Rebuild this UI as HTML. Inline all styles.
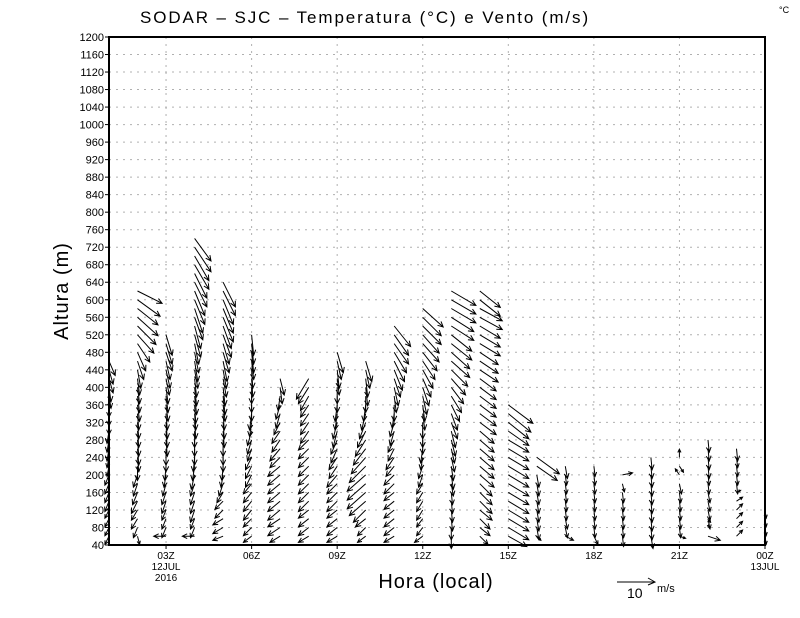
<!DOCTYPE html>
<html><head><meta charset="utf-8">
<style>
html,body{margin:0;padding:0;background:#fff;}
svg{display:block;font-family:"Liberation Sans",sans-serif;}
</style></head>
<body>
<svg id="chart" width="800" height="618" viewBox="0 0 800 618" xmlns="http://www.w3.org/2000/svg">
<rect x="0" y="0" width="800" height="618" fill="#fff"/>
<text x="365" y="23" font-size="17" text-anchor="middle" fill="#000" letter-spacing="1.9">SODAR – SJC – Temperatura (°C) e Vento (m/s)</text>
<text x="779" y="13" font-size="9" fill="#000">°C</text>
<g id="grid"></g>
<g id="yaxis"></g>
<g id="xaxis"></g>
<g id="vectors"></g>
<rect x="109" y="37" width="656" height="508" fill="none" stroke="#000" stroke-width="2"/>
<text transform="translate(68,291) rotate(-90)" font-size="20" text-anchor="middle" fill="#000" letter-spacing="1">Altura (m)</text>
<text x="436" y="588" font-size="20" text-anchor="middle" fill="#000" letter-spacing="1">Hora (local)</text>
<g>
<line x1="617" y1="582" x2="655" y2="582" stroke="#000" stroke-width="1"/>
<polyline points="648,578 655,582 648,585" fill="none" stroke="#000"/>
<text x="627" y="598" font-size="14" fill="#000">10</text>
<text x="657" y="592" font-size="11" fill="#000">m/s</text>
</g>
</svg>
<script>
const yTicks=[40,80,120,160,200,240,280,320,360,400,440,480,520,560,600,640,680,720,760,800,840,880,920,960,1000,1040,1080,1120,1160,1200];
const xTickHours=[3,6,9,12,15,18,21,24];
const xTickLabels=["03Z","06Z","09Z","12Z","15Z","18Z","21Z","00Z"];
const xTickSub1=["12JUL","","","","","","","13JUL"];
const xTickSub2=["2016","","","","","","",""];
const colHours=[1,2,3,4,5,6,7,8,9,10,11,12,13,14,15,16,17,18,19,20,21,22,23,24];
const baseLevel=60, levelStep=20;
const u0=[-1,-1,-1,-1,-1,-1,-1,-1,-0.5,-0.5,-0.5,-0.5,-0.5,0,0,0,0.5,0.5,1,1,1.5];
const v0=[-2,-2,-2,-2,-2.5,-2.5,-2.5,-2.5,-2.5,-2.5,-3,-3,-3,-3,-3,-3,-3,-3.5,-3.5,-3.5,-3.5];
const u1=[0.5,-1,-1.5,-1.5,-1.5,-1.2,-1,-1,0,0.3,0.3,0.3,0.3,0.3,0.3,0.5,0.5,0.5,0.5,0.8,1.5,2,3,4,4.5,5,5,5.5,6];
const v1=[-2,-2.5,-2.5,-2.5,-3,-3,-3,-3,-3.5,-3.5,-4,-4,-4,-4,-4,-4,-4,-4,-4,-4.5,-4.5,-4.5,-4.5,-4.5,-4.5,-4.5,-4,-4,-3];
const u2=[-3,-1,-1,-1,-1,-1,-0.8,-0.5,-0.3,0,0,0.3,0.3,0.3,0.3,0.5,0.5,0.5,0.8,1,1,1.5,1.5,1.5];
const v2=[0,-2.5,-2.5,-2.5,-3,-3,-3,-3,-3.5,-3.5,-4,-4,-4,-4,-4,-4,-4,-4,-4,-4.5,-4.5,-4.5,-5,-5];
const u3=[-3,-1,-1,-1,-1,-1,-1,-0.8,-0.5,-0.3,0,0,0,0.3,0.3,0.3,0.5,0.5,0.5,0.8,0.8,1,1,1.5,1.5,2,2,2.5,2.5,3,3,3.5,3.5,4,4];
const v3=[0,-2.5,-2.5,-3,-3,-3,-3,-3.5,-3.5,-3.5,-4,-4,-4,-4,-4,-4.5,-4.5,-4.5,-4.5,-4.5,-5,-5,-5,-5.5,-5.5,-5.5,-6,-6,-6,-6,-6,-6,-6,-6,-5.5];
const u4=[-2.5,-2.5,-2.5,-2,-2,-1.5,-1,-0.5,-0.3,0,0,0,0.3,0.3,0.3,0.5,0.5,0.5,0.8,0.8,1,1.5,1.5,2,2,2.5,2.5,2.5,3,3];
const v4=[-1,-1.5,-1.5,-2,-2,-2.5,-3,-3,-3.5,-3.5,-4,-4,-4,-4,-4,-4,-4.5,-4.5,-4.5,-4.5,-5,-5,-5,-5.5,-5.5,-6,-6,-6,-6,-6];
const u5=[-2,-2,-2,-2,-2,-2,-2,-1.5,-1.5,-1.5,-1,-1,-1,-0.5,-0.5,0,0,0,0.3,0.3,0.5,0.5,0.5,0.5];
const v5=[-1.5,-2,-2,-2.5,-2.5,-2.5,-2.5,-3,-3,-3,-3,-3.5,-3.5,-3.5,-4,-4,-4,-4,-4.5,-4.5,-4.5,-5,-5,-5];
const u6=[-2.5,-3,-3,-3,-3,-3,-3,-3,-3,-2.5,-2.5,-2,-2,-1.5,-1,-1,-0.5,0.5,1];
const v6=[-1.5,-2,-2,-2.5,-2.5,-2.5,-2.5,-2.5,-2.5,-2.5,-3,-3,-3,-3,-3.5,-3.5,-3.5,-4,-4];
const u7=[-2.5,-2.5,-2.5,-2.5,-2.5,-2.5,-2.5,-2.5,-2.5,-2.5,-2.5,-2.5,-2,-2,-2,-2,-2,-2.5,-3];
const v7=[-1.5,-2,-2,-2,-2.5,-2.5,-2.5,-2.5,-2.5,-2.5,-2.5,-2.5,-3,-3,-3,-3,-3.5,-4,-5];
const u8=[-2.5,-2.5,-2.5,-2.5,-2.5,-2.5,-2.5,-2.5,-2,-2,-1.5,-1.5,-1,-1,-0.5,-0.5,0,0,0.5,0.5,1,1.5];
const v8=[-1.5,-2,-2,-2,-2.5,-2.5,-2.5,-3,-3,-3,-3.5,-3.5,-4,-4,-4,-4,-4,-4,-4,-4.5,-4.5,-5];
const u9=[-2,-2,-2.5,-3,-4,-4.5,-4.5,-4.5,-4,-3.5,-3,-2.5,-2,-1.5,-1,-0.5,0,0.5,0.5,1,1.5];
const v9=[-1.5,-2,-2,-3,-3.5,-4,-4,-4,-4,-4,-4,-4,-4,-4,-4,-4,-4,-4.5,-4.5,-4.5,-5];
const u10=[-2.5,-2.5,-2.5,-2.5,-2.5,-2.5,-2.5,-2.5,-2,-2,-1.5,-1.5,-1,-1,-0.5,0,0.5,1,1.5,2,2.5,3,3.5,3.5,4];
const v10=[-1.5,-2,-2,-2,-2,-2,-2.5,-2.5,-2.5,-3,-3,-3,-3.5,-3.5,-3.5,-4,-4,-4.5,-4.5,-5,-5,-5,-5,-5,-5];
const u11=[-2,-1.5,-1.5,-1.5,-1.5,-1.5,-1.5,-1,-1,-0.5,-0.5,0,0,0,0.5,0.5,1,1.5,2,2.5,3,3.5,4,4,4.5,4.5,5];
const v11=[-1.5,-2,-2,-2.5,-2.5,-2.5,-2.5,-3,-3,-3,-3.5,-3.5,-4,-4,-4,-4,-4.5,-4.5,-4.5,-4.5,-4.5,-4.5,-4.5,-4.5,-4.5,-4.5,-4.5];
const u12=[0,0,0.3,0.3,0.3,0.3,0.5,0.5,0.5,0.8,0.8,1,1,1.5,1.5,2,2.5,3,3.5,4,4.5,4.5,5,5,5.5,5.5,6,6,6];
const v12=[-3,-3,-3,-3,-3,-3,-3,-3.5,-3.5,-3.5,-3.5,-4,-4,-4,-4,-4,-4,-4,-4,-4,-4,-4,-4,-4,-3.5,-3.5,-3.5,-3.5,-3.5];
const u13=[2,2.5,2.5,3,3,3,3,3.5,3.5,3.5,3.5,3.5,3.5,4,4,4,4,4,4,4.5,4.5,4.5,5,5,5,5.5,5.5,5,5];
const v13=[-2,-2,-2.5,-2.5,-3,-3,-3,-3,-3,-3,-3,-3,-3,-3,-3,-3,-3,-3,-3,-3,-3,-3,-3,-3,-3,-3,-3,-4,-4];
const u14=[4.5,5,5,5,5,5,5,5,5,5,5,5,5,5,5.5,6];
const v14=[-2.5,-3,-3,-3,-3,-3,-3,-3,-3,-3,-3,-3,-3.5,-4,-4.5,-4.5];
const u15=[1,0.5,0.5,0.5,0.5,0.5,0.5,0.5,5,5.5];
const v15=[-1,-3,-3,-3,-3,-3,-3,-3,-3.5,-4];
const u16=[2,0.5,0.5,0.3,0.3,0.3,0.3,0.3,0.5];
const v16=[-1,-2.5,-2.5,-2.5,-2.5,-2.5,-2.5,-2.5,-3];
const u17=[1,0.3,0.3,0.3,0.3,0.3,0.3,0.3,0.3];
const v17=[-2,-2.5,-2.5,-2.5,-2.5,-2.5,-2.5,-2.5,-2.5];
const u18=[0.3,0.3,0.3,0.3,0.3,0.3,0.5,2.5];
const v18=[-2.5,-2.5,-2.5,-2.5,-2.5,-2.5,-2,0.5];
const u19=[0.5,0.3,0.3,0.3,0.3,0.3,0.3,0.3,0.3,0.3];
const v19=[-3,-3,-3,-3,-3,-3,-3,-3,-3,-3];
const u20=[1.5,0.3,0.3,0.3,0.3,0.3,0.5,-1,1,0];
const v20=[-0.5,-2.5,-2.5,-2.5,-2.5,-2.5,-2.5,1.5,-1.5,2];
const u21=[3,0.5,0.5,0.5,0.5,0.5,0.3,0.3,0.3,0.3,0.3,0.3];
const v21=[-1,2,-2.5,-2.5,-2.5,-2.5,-2.5,-2.5,-3,-3,-3,-3];
const u22=[1.5,1.5,1.5,1.5,1.5,1,0.3,0.3,0.3,0.3,0.3];
const v22=[1.5,1.5,1.5,1.5,1,0.5,-2.5,-2.5,-2.5,-2.5,-3];
const u23=[0.3,0.3,0.3,0.3];
const v23=[-2,-2,-2,-2];
const U=[u0,u1,u2,u3,u4,u5,u6,u7,u8,u9,u10,u11,u12,u13,u14,u15,u16,u17,u18,u19,u20,u21,u22,u23];
const V=[v0,v1,v2,v3,v4,v5,v6,v7,v8,v9,v10,v11,v12,v13,v14,v15,v16,v17,v18,v19,v20,v21,v22,v23];

const NS="http://www.w3.org/2000/svg";
const X0=109,X1=765,Y0=545,Y1=37,H0=1,H1=24,A0=40,A1=1200;
const xScale=h=>X0+(h-H0)/(H1-H0)*(X1-X0);
const yScale=a=>Y0-(a-A0)/(A1-A0)*(Y0-Y1);
const pxPerMs=4.1;
function mk(tag,attrs,parent){const e=document.createElementNS(NS,tag);for(const k in attrs)e.setAttribute(k,attrs[k]);parent.appendChild(e);return e;}
const grid=document.getElementById('grid'),ya=document.getElementById('yaxis'),xa=document.getElementById('xaxis'),vg=document.getElementById('vectors');
yTicks.forEach(t=>{
  const y=yScale(t);
  const gl=mk('line',{x1:X0,x2:X1,y1:y,y2:y,stroke:'#b0b0b0','stroke-dasharray':'2,5','stroke-width':1},grid);
  
  
  mk('line',{x1:X0-4,x2:X0,y1:y,y2:y,stroke:'#000'},ya);
  const tx=mk('text',{x:X0-5,y:y+4,'font-size':11,'text-anchor':'end',fill:'#000'},ya);
  tx.textContent=t;
  
  
});
xTickHours.forEach((h,i)=>{
  const x=xScale(h);
  const gl=mk('line',{x1:x,x2:x,y1:Y1,y2:Y0,stroke:'#b0b0b0','stroke-dasharray':'2,5'},grid);
  
  
  mk('line',{x1:x,x2:x,y1:Y0,y2:Y0+4,stroke:'#000'},xa);
  const lines=[xTickLabels[i],xTickSub1[i],xTickSub2[i]];
  lines.forEach((s,j)=>{ if(!s)return;
    const tx=mk('text',{x:x,y:Y0+14+j*11,'font-size':10,'text-anchor':'middle',fill:'#000'},xa);
    tx.textContent=s;
    
    
  });
});
colHours.forEach((h,ci)=>{
  const x=xScale(h);
  const us=U[ci],vs=V[ci],n=Math.min(us.length,vs.length);
  for(let k=0;k<n;k++){
    const alt=baseLevel+k*levelStep;
    const y=yScale(alt);
    const dx=us[k]*pxPerMs,dy=-vs[k]*pxPerMs;
    const L=Math.hypot(dx,dy);if(L<0.5)continue;
    const ex=x+dx,ey=y+dy,ux=dx/L,uy=dy/L,hl=Math.min(6,L*0.45);
    const ca=Math.cos(0.45),sa=Math.sin(0.45);
    const h1x=ex-hl*(ux*ca-uy*sa),h1y=ey-hl*(uy*ca+ux*sa);
    const h2x=ex-hl*(ux*ca+uy*sa),h2y=ey-hl*(uy*ca-ux*sa);
    const p=mk('path',{d:`M${x.toFixed(1)},${y.toFixed(1)}L${ex.toFixed(1)},${ey.toFixed(1)}M${h1x.toFixed(1)},${h1y.toFixed(1)}L${ex.toFixed(1)},${ey.toFixed(1)}L${h2x.toFixed(1)},${h2y.toFixed(1)}`,stroke:'#000','stroke-width':1,fill:'none'},vg);
    
    
  }
});
</script>
</body></html>
